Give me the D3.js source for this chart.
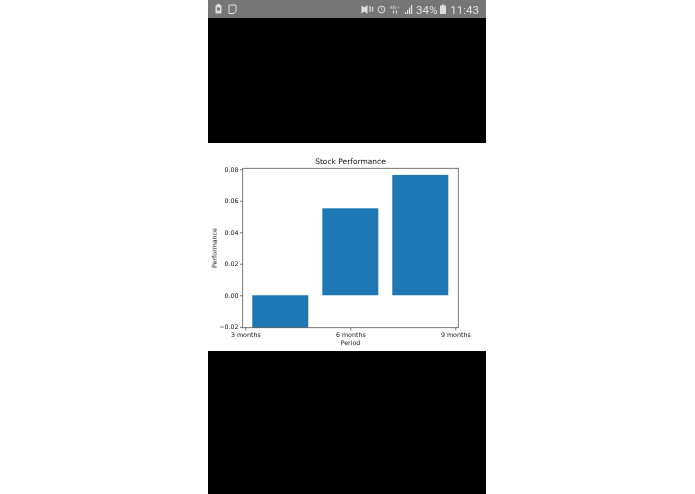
<!DOCTYPE html>
<html>
<head>
<meta charset="utf-8">
<script src="https://cdn.jsdelivr.net/npm/d3@7"></script>
<style>
html,body{margin:0;padding:0;background:#fff;overflow:hidden}
svg{display:block}
text{font-family:"DejaVu Sans",sans-serif}
</style>
</head>
<body>
<svg id="c" width="695" height="494"></svg>
<script>
const categories = ["3 months", "6 months", "9 months"];
const stockPerformance = [-0.021, 0.0552, 0.0764];
const barPositions = [0, 1, 2];
const tickPositions = [-0.5, 1, 2.5];
const yTicks = [-0.02, 0, 0.02, 0.04, 0.06, 0.08];
const chartTitle = "Stock Performance";
const xTitle = "Period";
const yTitle = "Performance";
const batteryText = "34%";
const clockText = "11:43";

const svg = d3.select("#c");
const ink = "#111";
const blue = "#1f77b4";
const plotL = 242.7, plotR = 458.3, plotT = 168.3, plotB = 327.7;

// phone screenshot frame
const screenL = 208, screenW = 278, barGrey = "#767676", glyph = "#dedede";
svg.append("rect").attr("x", screenL).attr("y", 0).attr("width", screenW).attr("height", 18).attr("fill", barGrey);
svg.append("rect").attr("x", screenL).attr("y", 18).attr("width", screenW).attr("height", 125).attr("fill", "#000");
svg.append("rect").attr("x", screenL).attr("y", 351).attr("width", screenW).attr("height", 143).attr("fill", "#000");

// status bar
const defs = svg.append("defs");
defs.append("filter").attr("id", "soft").append("feGaussianBlur").attr("stdDeviation", 0.28);
const sb = svg.append("g").attr("fill", glyph).attr("filter", "url(#soft)");
sb.append("rect").attr("x", 215.5).attr("y", 5).attr("width", 6).attr("height", 8.5).attr("rx", 1);
sb.append("rect").attr("x", 217.2).attr("y", 3.8).attr("width", 2.6).attr("height", 1.4);
sb.append("rect").attr("x", 217).attr("y", 7.5).attr("width", 3).attr("height", 3).attr("fill", barGrey);
sb.append("path").attr("d", "M229 5h7v6l-2 2.5h-5z").attr("fill", "none").attr("stroke", glyph);
sb.append("path").attr("d", "M361.5 5.5l3 2 3-2.5v9l-3-2.5-3 2z");
sb.append("rect").attr("x", 369.5).attr("y", 6).attr("width", 1.2).attr("height", 6);
sb.append("rect").attr("x", 372).attr("y", 7).attr("width", 1.2).attr("height", 4.5);
sb.append("circle").attr("cx", 381.5).attr("cy", 9.5).attr("r", 3.4).attr("fill", "none").attr("stroke", glyph);
sb.append("path").attr("d", "M381.5 7.3v2.4l1.6 1").attr("fill", "none").attr("stroke", glyph).attr("stroke-width", .7);
sb.append("text").attr("x", 395).attr("y", 8.5).attr("text-anchor", "middle").attr("font-size", 4.5).text("4G+");
sb.append("path").attr("d", "M393 10.5h1v3h-1zM396 10.5h1v3h-1z");
sb.append("path").attr("d", "M405 14h1.2v-2H405zM407 14h1.2v-4H407zM409 14h1.2v-6.5H409zM411 14h1.2v-9H411z");
sb.append("text").attr("x", 416).attr("y", 14).style("font-family", "Roboto").attr("font-size", 11.6).text(batteryText);
sb.append("rect").attr("x", 440).attr("y", 5.6).attr("width", 6).attr("height", 8.4);
sb.append("rect").attr("x", 441.8).attr("y", 4.4).attr("width", 2.4).attr("height", 1.4);
sb.append("text").attr("x", 479).attr("y", 14).attr("text-anchor", "end").style("font-family", "Roboto").attr("font-size", 11.6).text(clockText);

// chart
const x = d3.scaleLinear().domain([-0.537, 2.543]).range([plotL, plotR]);
const y = d3.scaleLinear().domain([-0.0206, 0.0806]).range([plotB, plotT]);
const barW = x(0.8) - x(0);

const clip = defs.append("clipPath").attr("id", "plot");
clip.append("rect").attr("x", plotL).attr("y", plotT).attr("width", plotR - plotL).attr("height", plotB - plotT);

svg.append("g").attr("clip-path", "url(#plot)").selectAll("rect").data(stockPerformance).join("rect")
  .attr("x", (d, i) => x(barPositions[i]) - barW / 2)
  .attr("width", barW)
  .attr("y", d => Math.min(y(d), y(0)))
  .attr("height", d => Math.abs(y(d) - y(0)))
  .attr("fill", blue);

const xAxis = d3.axisBottom(x).tickValues(tickPositions).tickFormat((d, i) => categories[i]).tickSize(2.6).tickPadding(2);
const yAxis = d3.axisLeft(y).tickValues(yTicks).tickFormat(d => d3.format(".2f")(d).replace("-", "\u2212")).tickSize(2.6).tickPadding(1.6);

const gx = svg.append("g").attr("transform", `translate(0,${plotB})`).call(xAxis);
const gy = svg.append("g").attr("transform", `translate(${plotL},0)`).call(yAxis);
[gx, gy].forEach(g => {
  g.select(".domain").remove();
  g.selectAll("line").attr("stroke", ink).attr("stroke-width", 0.6);
  g.selectAll("text").attr("fill", ink).attr("font-size", 6.3).attr("filter", "url(#soft)").style("font-family", '"DejaVu Sans"');
});

svg.append("rect").attr("x", plotL).attr("y", plotT).attr("width", plotR - plotL).attr("height", plotB - plotT)
  .attr("fill", "none").attr("stroke", "#555").attr("stroke-width", 0.8);

svg.append("text").attr("x", (plotL + plotR) / 2).attr("y", 164).attr("text-anchor", "middle")
  .attr("fill", ink).attr("font-size", 7.5).attr("filter", "url(#soft)").text(chartTitle);
svg.append("text").attr("x", (plotL + plotR) / 2).attr("y", 345.4).attr("text-anchor", "middle")
  .attr("fill", ink).attr("font-size", 6.3).attr("filter", "url(#soft)").text(xTitle);
svg.append("text").attr("transform", `translate(216.7,${(plotT + plotB) / 2}) rotate(-90)`).attr("text-anchor", "middle")
  .attr("fill", ink).attr("font-size", 6.3).attr("filter", "url(#soft)").text(yTitle);
</script>
</body>
</html>
